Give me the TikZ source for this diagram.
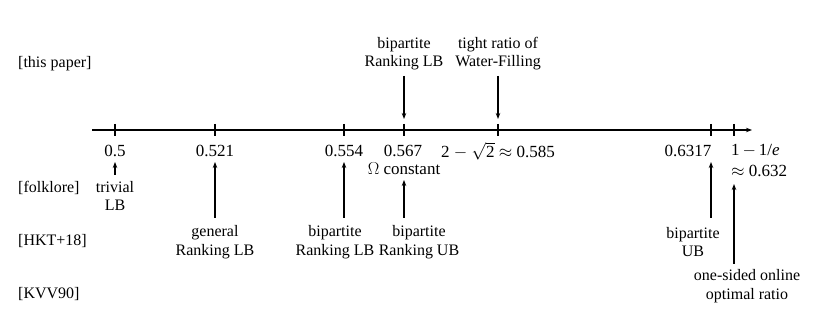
\documentclass[tikz,border=0pt]{standalone}
\usepackage{fontspec}
\setmainfont{Liberation Serif}
\usetikzlibrary{arrows.meta}
\begin{document}
\begin{tikzpicture}[x=1pt,y=-1pt,
  font=\fontsize{16}{18.5}\selectfont,
  arr/.style={-{Stealth[length=6pt,width=4.5pt]}, line width=1.1pt},
  lab/.style={align=center, inner sep=0pt},
  num/.style={align=center, inner sep=0pt, font=\fontsize{17}{21}\selectfont},
  row/.style={anchor=west, inner sep=0pt},
  tick/.style={line width=1.1pt}]
\useasboundingbox (0,0) rectangle (830,320);
% row labels
\node[row] (r1) at (18,64) {[this paper]};
\node[row] (r2) at (18,188) {[folklore]};
\node[row] (r3) at (18,241) {[HKT+18]};
\node[row] (r4) at (18,294) {[KVV90]};
% axis
\coordinate (as) at (92,130);
\coordinate (ae) at (752,130);
\draw[arr] (as) -- (ae);
\foreach \n/\x in {a/115,b/215,c/344,d/404,e/498,f/711,g/734}{
  \coordinate (t\n) at (\x,130);
  \draw[tick] (\x,124) -- (\x,136);
}
% value labels
\node[num] (va) at (115,151) {0.5};
\node[num] (vb) at (215,151) {0.521};
\node[num] (vc) at (344,151) {0.554};
\node[num] (vd) at (403,151) {0.567};
\node[num] (ve) at (498,151) {2 \(-\) $\sqrt{\mbox{2}}$ \(\approx\) 0.585};
\node[num] (vf) at (688,151) {0.6317};
\node[num, align=left, anchor=west] (vg) at (731,161) {1\,\(-\)\,1/\textit{e}\\\(\approx\) 0.632};
\node[num] (om) at (404,169) {\(\Omega\) constant};
% top
\node[lab] (p1) at (404,53.5) {bipartite\\Ranking LB};
\node[lab] (p2) at (498,53.5) {tight ratio of\\Water-Filling};
\coordinate (p1s) at (404,76);
\coordinate (p2s) at (498,76);
\draw[arr] (p1s) -- (404,119);
\draw[arr] (p2s) -- (498,119);
% folklore
\node[lab] (f1) at (115,196) {trivial\\LB};
\coordinate (f1s) at (115,175);
\coordinate (f1e) at (115,162);
\draw[arr] (f1s) -- (f1e);
% HKT+18
\node[lab] (h1) at (215,242) {general\\Ranking LB};
\node[lab] (h2) at (335,242) {bipartite\\Ranking LB};
\node[lab] (h3) at (419,242) {bipartite\\Ranking UB};
\node[lab] (h4) at (693,242) {bipartite\\UB};
\coordinate (h1s) at (215,218); \coordinate (h1e) at (215,162);
\coordinate (h2s) at (344,218); \coordinate (h2e) at (344,162);
\coordinate (h3s) at (404,218); \coordinate (h3e) at (404,180);
\coordinate (h4s) at (711,218); \coordinate (h4e) at (711,162);
\draw[arr] (h1s) -- (h1e);
\draw[arr] (h2s) -- (h2e);
\draw[arr] (h3s) -- (h3e);
\draw[arr] (h4s) -- (h4e);
% KVV90
\node[lab] (k1) at (747,286) {one-sided online\\optimal ratio};
\coordinate (k1s) at (734,264); \coordinate (k1e) at (734,184);
\draw[arr] (k1s) -- (k1e);
\end{tikzpicture}
\end{document}
